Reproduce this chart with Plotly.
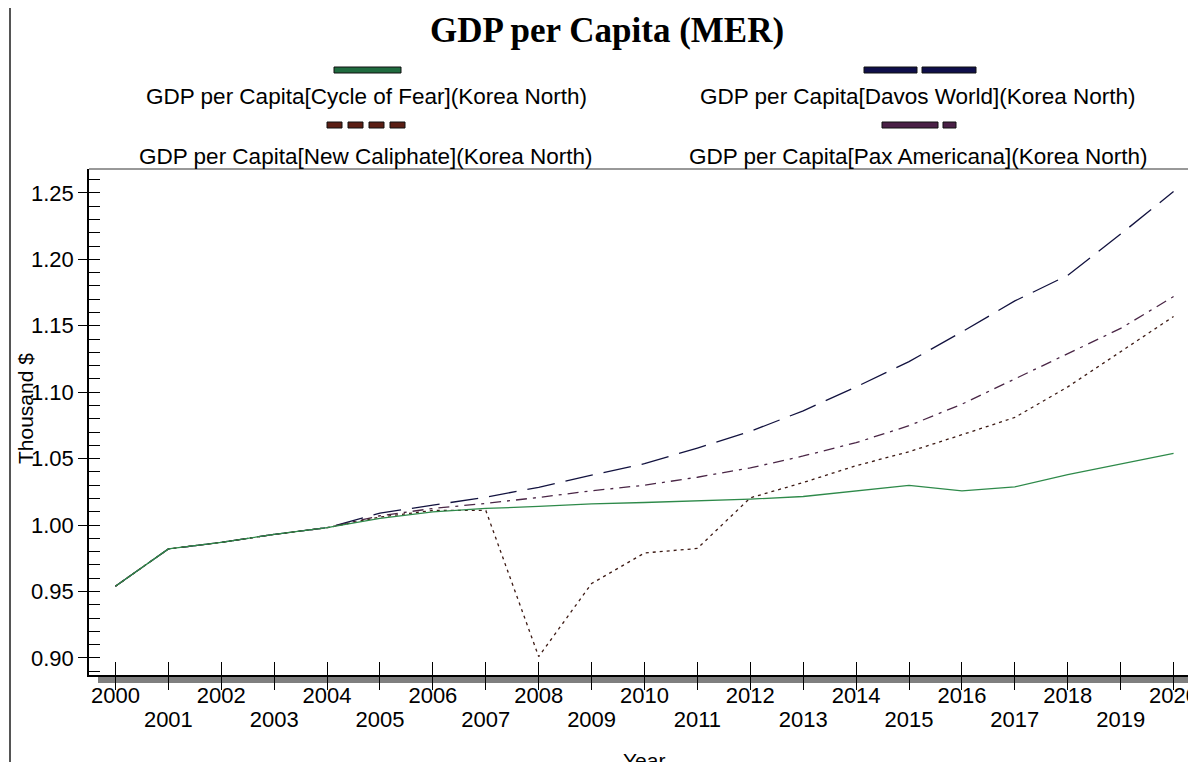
import plotly.graph_objects as go

# ---------------- data ----------------
years = [2000, 2001, 2002, 2003, 2004, 2005, 2006, 2007, 2008, 2009, 2010,
         2011, 2012, 2013, 2014, 2015, 2016, 2017, 2018, 2019, 2020]

cycle_of_fear = [0.954, 0.982, 0.987, 0.993, 0.998, 1.005, 1.010, 1.0125, 1.014, 1.016, 1.017,
                 1.018, 1.0195, 1.0215, 1.0255, 1.0298, 1.0258, 1.0287, 1.038, 1.046, 1.054]
davos_world = [0.954, 0.982, 0.987, 0.993, 0.998, 1.009, 1.015, 1.021, 1.0284, 1.0376, 1.0462,
               1.058, 1.0705, 1.086, 1.104, 1.123, 1.1454, 1.1687, 1.188, 1.219, 1.251]
new_caliphate = [0.954, 0.982, 0.987, 0.993, 0.998, 1.006, 1.011, 1.011, 0.901, 0.956, 0.979,
                 0.9824, 1.0205, 1.032, 1.0447, 1.0552, 1.068, 1.081, 1.104, 1.1305, 1.157]
pax_americana = [0.954, 0.982, 0.987, 0.993, 0.998, 1.007, 1.0125, 1.0163, 1.0208, 1.0258, 1.030,
                 1.036, 1.043, 1.052, 1.062, 1.0748, 1.091, 1.110, 1.129, 1.148, 1.172]

series_names = [
    "GDP per Capita[Cycle of Fear](Korea North)",
    "GDP per Capita[Davos World](Korea North)",
    "GDP per Capita[New Caliphate](Korea North)",
    "GDP per Capita[Pax Americana](Korea North)",
]
y_tick_values = [0.90, 0.95, 1.00, 1.05, 1.10, 1.15, 1.20, 1.25]
x_tick_labels = [str(y) for y in years]

title_text = "GDP per Capita (MER)"
y_title = "Thousand $"
x_title = "Year"

# ---------------- layout geometry ----------------
W, H = 1196, 762
L, R, T, B = 81, 4, 161, 95
PW = W - L - R
PH = H - T - B


def px_x(px):
    return (px - L) / PW


def px_y(py):
    return (H - B - py) / PH


SANS = "Liberation Sans, Arial, sans-serif"
SERIF = "Liberation Serif, Times New Roman, serif"

c_green = "#2e8a4a"
c_navy = "#12123f"
c_brown = "#3d1a14"
c_purple = "#4a2646"

fig = go.Figure()

fig.add_trace(go.Scatter(x=years, y=davos_world, mode="lines", name=series_names[1],
                         line=dict(color=c_navy, width=1.3, dash="28px,11px"), showlegend=False))
fig.add_trace(go.Scatter(x=years, y=pax_americana, mode="lines", name=series_names[3],
                         line=dict(color=c_purple, width=1.3, dash="11px,6px,3px,6px"), showlegend=False))
fig.add_trace(go.Scatter(x=years, y=new_caliphate, mode="lines", name=series_names[2],
                         line=dict(color=c_brown, width=1.3, dash="3px,4px"), showlegend=False))
fig.add_trace(go.Scatter(x=years, y=cycle_of_fear, mode="lines", name=series_names[0],
                         line=dict(color=c_green, width=1.3), showlegend=False))
# invisible helper traces so the overlay axes (inner tick halves, odd-year labels) get drawn
fig.add_trace(go.Scatter(x=years, y=cycle_of_fear, xaxis="x2", yaxis="y2", mode="lines",
                         line=dict(width=0), opacity=0, hoverinfo="skip", showlegend=False))
fig.add_trace(go.Scatter(x=years, y=cycle_of_fear, xaxis="x3", yaxis="y2", mode="lines",
                         line=dict(width=0), opacity=0, hoverinfo="skip", showlegend=False))

xr = [1999.5, 2020.5]
yr = [1.268 - PH / 1328.6, 1.268]

even_text = [t if i % 2 == 0 else "" for i, t in enumerate(x_tick_labels)]
odd_text = [t if i % 2 == 1 else "" for i, t in enumerate(x_tick_labels)]

tickfont = dict(family=SANS, size=22, color="black")

fig.update_layout(
    width=W, height=H,
    margin=dict(l=L, r=R, t=T, b=B, pad=0),
    paper_bgcolor="white", plot_bgcolor="white",
    showlegend=False,
    title=dict(text="<b>" + title_text + "</b>", x=599 / W, xanchor="center",
               y=1 - 22 / H, yanchor="middle",
               font=dict(family=SERIF, size=35, color="black")),
    xaxis=dict(range=xr, tickmode="array", tickvals=years, ticktext=even_text,
               ticks="outside", ticklen=13, tickwidth=1, tickcolor="black",
               ticklabelstandoff=-13,
               showline=True, linecolor="black", linewidth=2, mirror=False,
               showgrid=False, zeroline=False, tickfont=tickfont),
    xaxis2=dict(range=xr, overlaying="x", side="bottom", tickmode="array", tickvals=years,
                ticks="inside", ticklen=13, tickwidth=1, tickcolor="black",
                showticklabels=False, showline=False, showgrid=False, zeroline=False),
    xaxis3=dict(range=xr, overlaying="x", side="bottom", tickmode="array", tickvals=years,
                ticktext=odd_text, ticks="outside", ticklen=13, tickwidth=1,
                tickcolor="rgba(0,0,0,0)", ticklabelstandoff=12,
                showline=False, showgrid=False, zeroline=False, tickfont=tickfont),
    yaxis=dict(range=yr, tickmode="array", tickvals=y_tick_values, tickformat=".2f",
               ticks="outside", ticklen=9, tickwidth=1, tickcolor="black",
               minor=dict(dtick=0.01, tick0=0.9, ticks="inside", ticklen=11,
                          tickwidth=1, tickcolor="black", showgrid=False),
               showline=True, linecolor="black", linewidth=1.5, mirror=False,
               showgrid=False, zeroline=False, tickfont=tickfont),
    yaxis2=dict(range=yr, overlaying="y", side="left", tickmode="array", tickvals=y_tick_values,
                ticks="inside", ticklen=11, tickwidth=1, tickcolor="black",
                showticklabels=False, showline=False, showgrid=False, zeroline=False),
)

shapes = []
# plot frame top and right
shapes.append(dict(type="line", xref="paper", yref="paper", x0=0, x1=1, y0=1, y1=1,
                   line=dict(color="#333333", width=1)))
shapes.append(dict(type="line", xref="paper", yref="paper", x0=1, x1=1, y0=0, y1=1,
                   line=dict(color="#222222", width=2)))
# grey shadow under x axis
shapes.append(dict(type="rect", xref="paper", yref="paper", layer="below",
                   x0=px_x(L + 9), x1=px_x(W - R), y0=px_y(H - B + 8), y1=px_y(H - B + 1),
                   fillcolor="#7f7f7f", line=dict(width=0)))
# window frame line at far left
shapes.append(dict(type="line", xref="paper", yref="paper",
                   x0=px_x(2), x1=px_x(2), y0=px_y(H), y1=px_y(0),
                   line=dict(color="#555555", width=2)))


def bar(x0, x1, yc, color, h=6):
    return dict(type="rect", xref="paper", yref="paper",
                x0=px_x(x0), x1=px_x(x1), y0=px_y(yc + h / 2), y1=px_y(yc - h / 2),
                fillcolor=color, line=dict(color="#111111", width=1))


# legend samples
shapes.append(bar(326, 393, 62, "#1f6b3f"))
shapes += [bar(319 + i * 21, 334 + i * 21, 117, "#5a1e14") for i in range(4)]
shapes.append(bar(856, 909, 62, "#0f0f4a"))
shapes.append(bar(914, 968, 62, "#0f0f4a"))
shapes.append(bar(874, 930, 117, "#4a2046"))
shapes.append(bar(935, 948, 117, "#4a2046"))

annotations = []
leg_pos = [(358, 89), (910, 89), (358, 149), (910, 149)]
for name, (cx, cy) in zip(series_names, leg_pos):
    annotations.append(dict(text=name, xref="paper", yref="paper", x=px_x(cx), y=px_y(cy),
                            xanchor="center", yanchor="middle", showarrow=False,
                            font=dict(family=SANS, size=22.5, color="black")))
annotations.append(dict(text=y_title, xref="paper", yref="paper", x=px_x(17), y=px_y(401),
                        xanchor="center", yanchor="middle", textangle=-90, showarrow=False,
                        font=dict(family=SANS, size=21, color="black")))
annotations.append(dict(text=x_title, xref="paper", yref="paper", x=px_x(636), y=px_y(739),
                        xanchor="center", yanchor="top", showarrow=False,
                        font=dict(family=SANS, size=21, color="black")))

fig.update_layout(shapes=shapes, annotations=annotations)

fig.write_html("out.html")
